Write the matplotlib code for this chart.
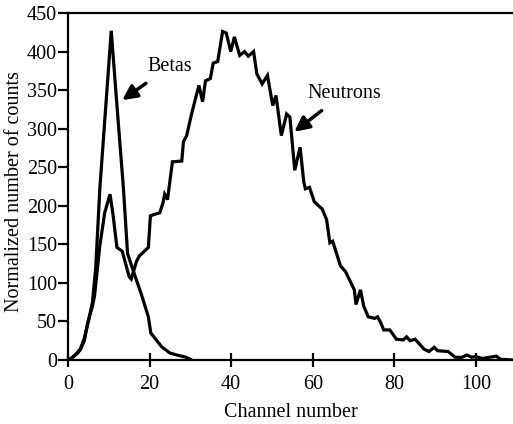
import matplotlib
matplotlib.use("Agg")
import matplotlib.pyplot as plt

plt.rcParams['font.family'] = ['Liberation Serif', 'DejaVu Serif']

# Betas curve (channel, normalized counts)
beta_x = [0, 1, 2, 3, 4, 5, 6, 6.8, 7.8, 10.6, 12, 13.6, 14.6, 16.3, 18, 19.7, 20.3, 21.5, 23, 25, 27, 28.7, 30]
beta_y = [0, 3, 8, 14, 28, 50, 75, 120, 222, 427, 330, 222, 138, 111, 85, 56, 35, 27, 17, 9, 6, 4, 1]

# Neutrons curve
neut_x = [0, 1, 2, 3, 4, 4.8, 6, 6.5, 7.8, 9, 10.3, 11, 12, 13.3, 15, 15.5, 16.8, 17.5, 19.7, 20.0, 20.2,
          21.3, 22.5, 23.3, 23.7, 24.4, 25.6, 27.9, 28.3, 29.1, 30.2, 31.4, 32.1, 33.0, 33.7, 34.9, 35.6,
          36.7, 37.9, 38.8, 39.9, 40.8, 42.1, 43.3, 44.2, 45.5, 46.3, 47.6, 48.9, 50.2, 51, 52.3, 53.6,
          54.4, 55.6, 56.9, 57.8, 58.2, 59.2, 60.4, 62.3, 63.4, 64.2, 64.9, 66.8, 68, 70.2, 70.6, 71.7,
          72.5, 73.6, 75.2, 75.9, 76.7, 77.4, 78.9, 80.5, 82.2, 83, 83.9, 85.1, 87.3, 88.5, 89.8, 90.6,
          93.2, 94.9, 96.6, 97.8, 99, 99.9, 101.6, 105, 106, 109]
neut_y = [0, 3, 7, 13, 25, 48, 70, 83, 148, 191, 215, 190, 146, 141, 108, 105, 128, 135, 146, 170, 187,
          189, 191, 204, 215, 208, 257, 258, 283, 291, 317, 342, 356, 335, 362, 365, 385,
          387, 426, 424, 400, 419, 395, 400, 394, 400, 371, 358, 369, 330, 343, 291, 319,
          315, 246, 276, 231, 222, 224, 205, 196, 182, 152, 154, 122, 115, 91, 72, 91,
          70, 56, 54, 56, 48, 39, 39, 27, 26, 30, 25, 27, 14, 11, 16.5, 12,
          11, 3.5, 3.5, 6.5, 3.5, 4.5, 2, 5, 1, 0]

xticks = [0, 20, 40, 60, 80, 100]
yticks = [0, 50, 100, 150, 200, 250, 300, 350, 400, 450]

W, H = 513, 424
fig = plt.figure(figsize=(W / 100, H / 100), dpi=100)
ax = fig.add_axes([68 / W, 1 - 360 / H, 1 - 68 / W, (360 - 13) / H])

ax.plot(beta_x, beta_y, color='black', lw=2.3, solid_joinstyle='miter')
ax.plot(neut_x, neut_y, color='black', lw=2.3, solid_joinstyle='miter')

ax.set_xlim(0, 109.1)
ax.set_ylim(0, 450)
ax.set_xticks(xticks)
ax.set_yticks(yticks)
for s in ['left', 'top', 'bottom']:
    ax.spines[s].set_linewidth(1.6)
ax.spines['right'].set_visible(False)
ax.tick_params(axis='y', direction='out', length=7, width=1.6, pad=1, labelsize=14.5)
ax.tick_params(axis='x', direction='inout', length=10, width=1.6, pad=6, labelsize=14.5)

ax.set_xlabel('Channel number', fontsize=14.5, labelpad=6)
ax.set_ylabel('Normalized number of counts', fontsize=14.5)
ax.yaxis.set_label_coords(-0.099, 0.484)

ax.annotate('Betas', xy=(13.3, 337), xytext=(25, 381), fontsize=14.5, ha='center', va='center',
            arrowprops=dict(arrowstyle='-|>', color='black', lw=2.5, mutation_scale=22,
                            shrinkA=6, shrinkB=0))
ax.annotate('Neutrons', xy=(55.5, 296), xytext=(67.7, 346), fontsize=14.5, ha='center', va='center',
            arrowprops=dict(arrowstyle='-|>', color='black', lw=2.5, mutation_scale=22,
                            shrinkA=6, shrinkB=0))

fig.savefig('out.png', dpi=100)
